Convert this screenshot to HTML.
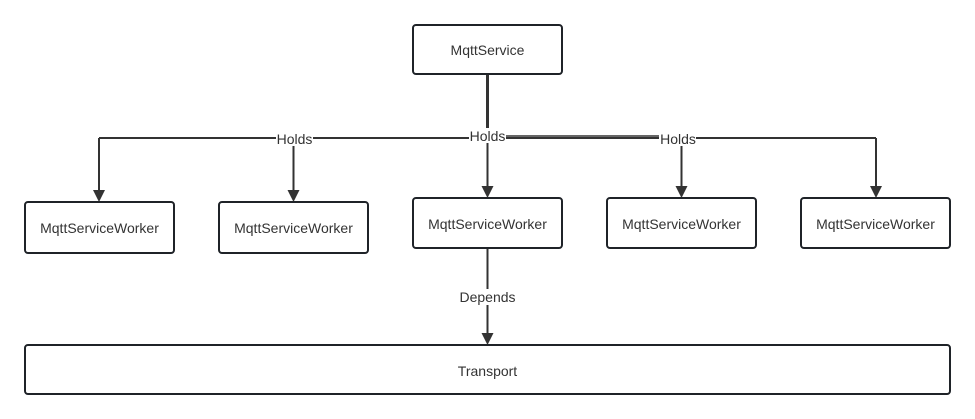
<!DOCTYPE html>
<html><head><meta charset="utf-8"><style>
html,body{margin:0;padding:0;background:#fff;}
svg{display:block;}
text{font-family:"Liberation Sans",sans-serif;font-size:14px;fill:#333;}
</style></head><body>
<svg width="975" height="419" viewBox="0 0 975 419" xmlns="http://www.w3.org/2000/svg">
<g stroke="#333" stroke-width="2" fill="none">
<line x1="487.5" y1="74" x2="487.5" y2="139" stroke-width="3"/>
<line x1="99" y1="138" x2="876" y2="138"/>
<line x1="487.5" y1="136" x2="660" y2="136" stroke-width="1.5"/>
<line x1="99" y1="138" x2="99" y2="192"/>
<line x1="293.5" y1="138" x2="293.5" y2="192"/>
<line x1="487.5" y1="138" x2="487.5" y2="188"/>
<line x1="681.5" y1="138" x2="681.5" y2="188"/>
<line x1="876" y1="138" x2="876" y2="188"/>
<line x1="487.5" y1="248" x2="487.5" y2="335"/>
</g>
<g fill="#333">
<path d="M93,190 L105,190 L99,202 Z"/>
<path d="M287.5,190 L299.5,190 L293.5,202 Z"/>
<path d="M481.5,186 L493.5,186 L487.5,198 Z"/>
<path d="M675.5,186 L687.5,186 L681.5,198 Z"/>
<path d="M870,186 L882,186 L876,198 Z"/>
<path d="M481.5,333 L493.5,333 L487.5,345 Z"/>
</g>
<g fill="#fff">
<rect x="276" y="131" width="37" height="15"/>
<rect x="469" y="128" width="37" height="15"/>
<rect x="659" y="131" width="37" height="15"/>
<rect x="458" y="289" width="60" height="16"/>
</g>
<g fill="#fff" stroke="#1f2328" stroke-width="2">
<rect x="413" y="25" width="149" height="49" rx="3"/>
<rect x="25" y="202" width="149" height="51" rx="3"/>
<rect x="219" y="202" width="149" height="51" rx="3"/>
<rect x="413" y="198" width="149" height="50" rx="3"/>
<rect x="607" y="198" width="149" height="50" rx="3"/>
<rect x="801" y="198" width="149" height="50" rx="3"/>
<rect x="25" y="345" width="925" height="49" rx="3"/>
</g>
<g text-anchor="middle">
<text x="487.5" y="55">MqttService</text>
<text x="99.5" y="233">MqttServiceWorker</text>
<text x="293.5" y="233">MqttServiceWorker</text>
<text x="487.5" y="229">MqttServiceWorker</text>
<text x="681.5" y="229">MqttServiceWorker</text>
<text x="875.5" y="229">MqttServiceWorker</text>
<text x="487.5" y="376">Transport</text>
<text x="294.5" y="144">Holds</text>
<text x="487.5" y="141">Holds</text>
<text x="678" y="144">Holds</text>
<text x="487.5" y="302">Depends</text>
</g>
</svg>
</body></html>
